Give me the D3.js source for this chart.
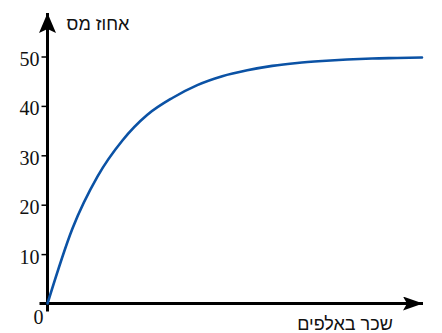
<!DOCTYPE html>
<html>
<head>
<meta charset="utf-8">
<script src="https://cdn.jsdelivr.net/npm/d3@7"></script>
<style>
  html, body { margin: 0; padding: 0; background: #fff; }
  svg { display: block; }
</style>
</head>
<body>
<svg id="chart"></svg>
<script>
// income in thousands (no ticks shown on x) and tax percentage
const income = [0, 1, 2, 3, 4, 5, 6, 7, 8, 9, 10, 11, 12, 13, 14, 15];
const taxPct = [0, 15.2, 25.7, 33.0, 38.2, 41.6, 44.2, 46.0, 47.2, 48.1, 48.7, 49.1, 49.4, 49.6, 49.7, 49.8];
const yTicks = [10, 20, 30, 40, 50];
const xTitle = "שכר באלפים";
const yTitle = "אחוז מס";

const width = 442,
    height = 333;

const svg = d3.select("#chart")
    .attr("width", width)
    .attr("height", height);

const x = d3.scaleLinear()
    .domain([0, 15])
    .range([47.5, 422]);

const y = d3.scaleLinear()
    .domain([0, 50])
    .range([303.5, 56.5]);

const x0 = x(0), y0 = y(0);

// arrowheads
const defs = svg.append("defs");
defs.append("marker")
    .attr("id", "arrow")
    .attr("viewBox", "0 0 20 14")
    .attr("refX", 20)
    .attr("refY", 7)
    .attr("markerUnits", "userSpaceOnUse")
    .attr("markerWidth", 20)
    .attr("markerHeight", 14)
    .attr("orient", "auto")
    .append("path")
    .attr("d", "M0,0 L20,7 L0,14 L4,7 Z")
    .attr("fill", "#000");

defs.append("marker")
    .attr("id", "arrowY")
    .attr("viewBox", "0 0 20 17")
    .attr("refX", 20)
    .attr("refY", 8.5)
    .attr("markerUnits", "userSpaceOnUse")
    .attr("markerWidth", 20)
    .attr("markerHeight", 17)
    .attr("orient", "auto")
    .append("path")
    .attr("d", "M0,0 L20,8.5 L0,17 L4,8.5 Z")
    .attr("fill", "#000");

// y axis ticks + labels
svg.append("g")
    .attr("transform", `translate(${x0},0)`)
    .call(d3.axisLeft(y).tickValues(yTicks).tickSize(6).tickPadding(2))
    .call(g => g.select(".domain").remove())
    .call(g => g.selectAll(".tick line").attr("stroke", "#000").attr("stroke-width", 1.5))
    .call(g => g.selectAll(".tick text")
        .attr("fill", "#111")
        .attr("dy", "0.45em")
        .style("font-family", "'Liberation Serif', 'Times New Roman', serif")
        .style("font-size", "20px"));

// zero label
svg.append("text")
    .attr("x", x0 - 9)
    .attr("y", y0 + 20)
    .attr("text-anchor", "middle")
    .attr("fill", "#111")
    .style("font-family", "'Liberation Serif', 'Times New Roman', serif")
    .style("font-size", "20px")
    .text("0");

// axis lines
svg.append("line")
    .attr("x1", x0 - 8).attr("y1", y0)
    .attr("x2", 423).attr("y2", y0)
    .attr("stroke", "#000")
    .attr("stroke-width", 3)
    .attr("marker-end", "url(#arrow)");

svg.append("line")
    .attr("x1", x0).attr("y1", y0 + 8)
    .attr("x2", x0).attr("y2", 13)
    .attr("stroke", "#000")
    .attr("stroke-width", 3)
    .attr("marker-end", "url(#arrowY)");

// curve
const line = d3.line()
    .x((d, i) => x(income[i]))
    .y(d => y(d))
    .curve(d3.curveMonotoneX);

svg.append("path")
    .datum(taxPct)
    .attr("fill", "none")
    .attr("stroke", "#0b52a5")
    .attr("stroke-width", 2.6)
    .attr("stroke-linecap", "round")
    .attr("d", line);

// titles
svg.append("text")
    .attr("x", 98)
    .attr("y", 30)
    .attr("text-anchor", "middle")
    .attr("fill", "#111")
    .style("font-family", "'Liberation Sans', Arial, sans-serif")
    .style("font-size", "18px")
    .text(yTitle);

svg.append("text")
    .attr("x", 345)
    .attr("y", 330)
    .attr("text-anchor", "middle")
    .attr("fill", "#111")
    .style("font-family", "'Liberation Sans', Arial, sans-serif")
    .style("font-size", "18px")
    .text(xTitle);
</script>
</body>
</html>
